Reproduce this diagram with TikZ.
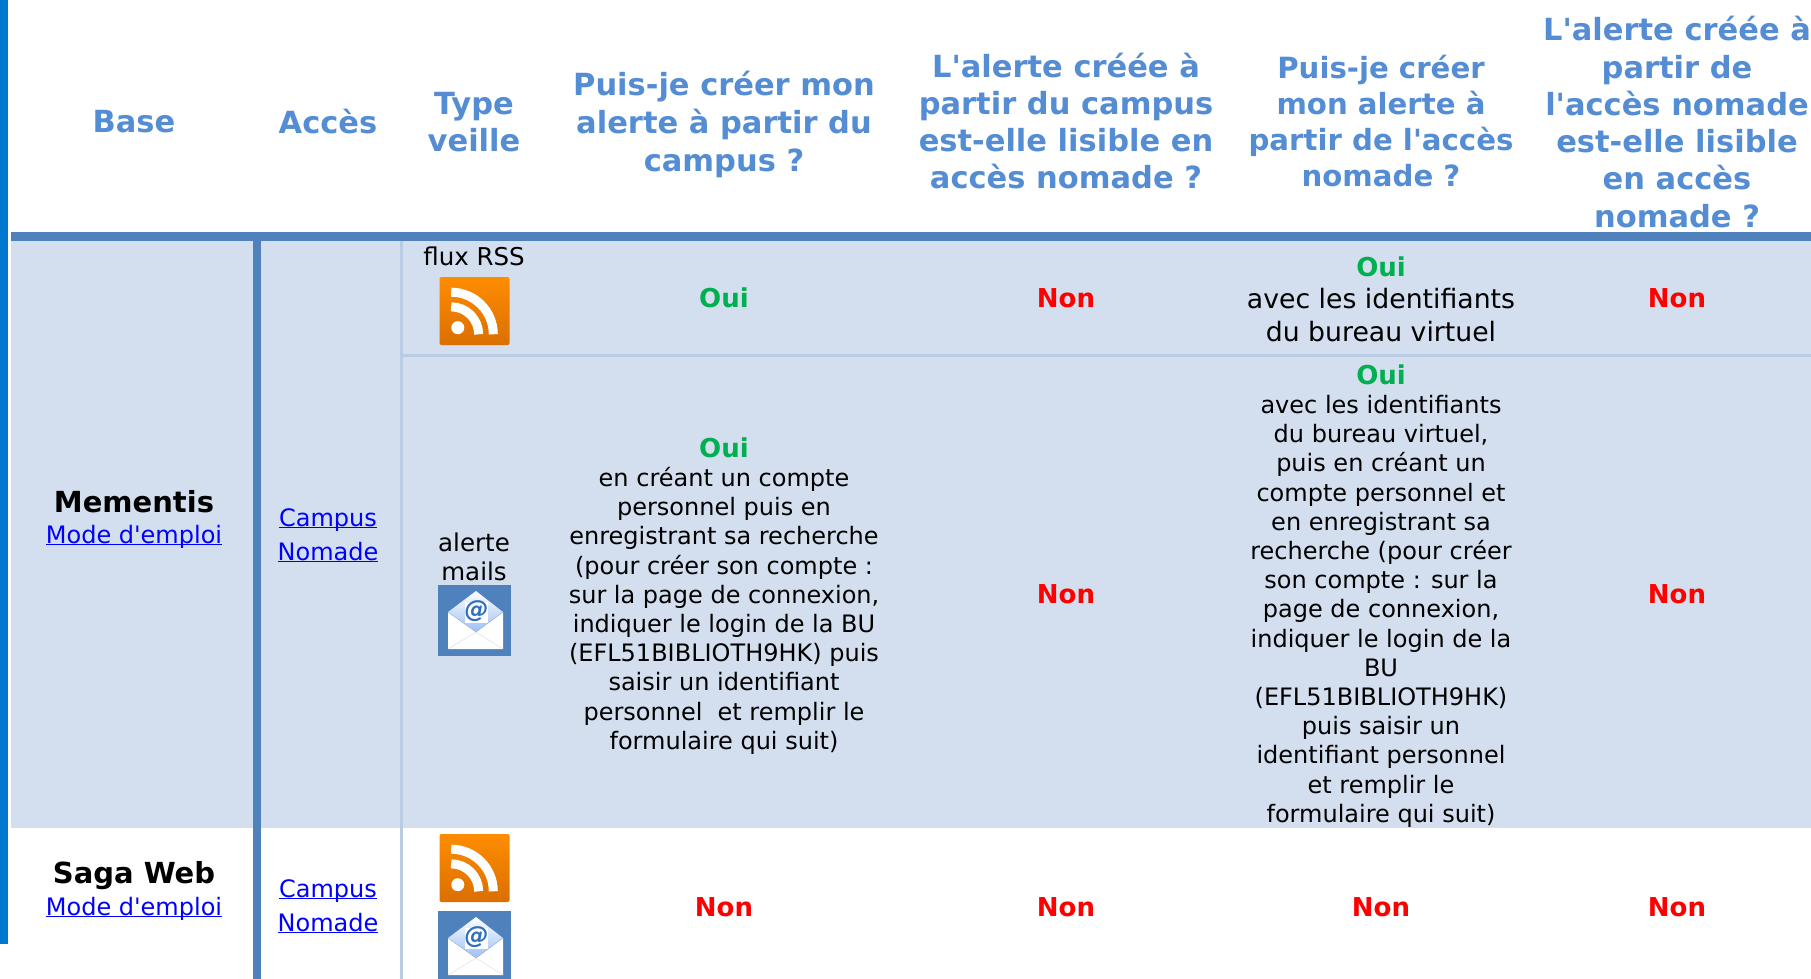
\documentclass[tikz,border=0pt]{standalone}
\usepackage{fontspec}
\newfontfamily\dv{DejaVu Sans}
\definecolor{bar}{HTML}{4F81BD}
\definecolor{pale}{HTML}{B8CCE4}
\definecolor{lite}{HTML}{D3DFEE}
\definecolor{edge}{HTML}{0078CF}
\definecolor{hdr}{HTML}{548DD4}
\definecolor{oui}{HTML}{00B050}
\definecolor{lnk}{HTML}{0000FF}
\definecolor{rsstop}{HTML}{FF8C00}
\definecolor{rssbot}{HTML}{DA6F00}
\definecolor{flap}{HTML}{9DBEF5}
\definecolor{atc}{HTML}{2F6FBF}
\newcommand{\lk}[1]{\underline{\smash{#1}}}
\newcommand{\ouiT}{{\fontsize{26}{29}\selectfont\bfseries\color{oui}Oui}}
\tikzset{
  hd/.style={inner sep=0,align=center,text=hdr,font=\dv\fontsize{30.5}{#1}\selectfont\bfseries},
  hd/.default=37.3,
  hdn/.style={inner sep=0,align=center,text=hdr,font=\dv\fontsize{29.2}{35.8}\selectfont\bfseries},
  nm/.style={inner sep=0,align=center,text=black,font=\dv\fontsize{29}{34}\selectfont\bfseries},
  link/.style={inner sep=0,align=center,text=lnk,font=\dv\fontsize{24}{34}\selectfont},
  big/.style={inner sep=0,align=center,text=black,font=\dv\fontsize{26.7}{32.5}\selectfont},
  body/.style={inner sep=0,align=center,text=black,font=\dv\fontsize{24}{29.2}\selectfont},
  lab/.style={inner sep=0,align=center,text=black,font=\dv\fontsize{24.5}{29}\selectfont},
  non/.style={inner sep=0,text=red,font=\dv\fontsize{26}{29}\selectfont\bfseries},
  yes/.style={inner sep=0,text=oui,font=\dv\fontsize{26}{29}\selectfont\bfseries},
}
\newcommand{\rssicon}[2]{%
  \begin{scope}[shift={(#1,#2)}]
    \shade[top color=rsstop,bottom color=rssbot,rounded corners=2pt] (0,0) rectangle (70,68);
    \draw[white,line width=9pt] (53.8,57.3) .. controls (53.8,34.05) and (34.95,15.2) .. (11.7,15.2);
    \draw[white,line width=9pt] (39.15,57.3) .. controls (39.15,42.14) and (26.86,29.85) .. (11.7,29.85);
    \fill[white] (18.3,50.7) circle[radius=6.5pt];
  \end{scope}}
\newcommand{\mailicon}[3]{%
  \begin{scope}[shift={(#1,#2)}]
    \fill[bar] (0,0) rectangle (73,71);
    \shade[top color=white,bottom color=flap] (10,27) -- (38,6) -- (65,27) -- (38,47) -- cycle;
    \fill[white] (27,17) rectangle (50,38);
    \node (#3) [inner sep=0,text=atc,font=\dv\fontsize{24}{24}\selectfont\bfseries\itshape] at (38.5,26) {@};
    \fill[white] (10,27) -- (38,47) -- (65,27) -- (65,64) -- (10,64) -- cycle;
    \draw[bar!60!white,line width=.5pt] (10,27) -- (38,47) -- (65,27);
    \draw[black!12,line width=.5pt] (10,64) -- (38,47) -- (65,64);
  \end{scope}}
\begin{document}
\begin{tikzpicture}[x=1pt,y=-1pt]
\useasboundingbox (0,0) rectangle (1811,979);
\clip (0,0) rectangle (1811,979);
\fill[white] (0,0) rectangle (1811,979);
% backgrounds and rules
\fill[lite] (11,241) rectangle (1811,828);
\fill[edge] (0,0) rectangle (8,944);
\fill[pale] (399.5,241) rectangle (402.5,979);
\fill[pale] (402,354) rectangle (1811,357);
\fill[bar] (11,232) rectangle (1811,241);
\fill[bar] (252.5,241) rectangle (261,979);
% header
\node (h1) [hd] at (134,122) {Base};
\node (h2) [hd] at (328,122) {Accès};
\node (h3) [hd] at (474,122) {Type\\veille};
\node (h4) [hd=38] at (724,124) {Puis-je créer mon\\alerte à partir du\\campus ?};
\node (h5) [hd] at (1066,121) {L'alerte créée à\\partir du campus\\est-elle lisible en\\accès nomade ?};
\node (h6) [hdn] at (1381,121) {Puis-je créer\\mon alerte à\\partir de l'accès\\nomade ?};
\node (h7) [hd] at (1677,122) {L'alerte créée à\\partir de\\l'accès nomade\\est-elle lisible\\en accès\\nomade ?};
% Mementis
\node (m1) [nm] at (134,502) {Mementis};
\node (m2) [link] at (134,544) {\lk{Mode d'emploi}};
\node (m3) [link] at (328,544) {\lk{Campus}\\\lk{Nomade}};
\node (r1) [lab] at (474,256) {flux RSS};
\rssicon{439.5}{277}
\node (r2) [yes] at (724,298) {Oui};
\node (r3) [non] at (1066,298) {Non};
\node (r4) [big] at (1381,299) {{\ouiT}\\avec les identifiants\\du bureau virtuel};
\node (r5) [non] at (1677,298) {Non};
\node (a1) [lab] at (474,557) {alerte\\mails};
\mailicon{438}{585}{at1}
\node (a2) [body] at (724,596) {{\ouiT}\\en créant un compte\\personnel puis en\\enregistrant sa recherche\\(pour créer son compte :\\sur la page de connexion,\\indiquer le login de la BU\\(EFL51BIBLIOTH9HK) puis\\saisir un identifiant\\personnel\ \ et remplir le\\formulaire qui suit)};
\node (a3) [non] at (1066,594) {Non};
\node (a4) [body] at (1381,596) {{\ouiT}\\avec les identifiants\\du bureau virtuel,\\puis en créant un\\compte personnel et\\en enregistrant sa\\recherche (pour créer\\son compte : sur la\\page de connexion,\\indiquer le login de la\\BU\\(EFL51BIBLIOTH9HK)\\puis saisir un\\identifiant personnel\\et remplir le\\formulaire qui suit)};
\node (a5) [non] at (1677,594) {Non};
% Saga Web
\node (s1) [nm] at (134,876) {Saga Web};
\node (s2) [link] at (134,916) {\lk{Mode d'emploi}};
\node (s3) [link] at (328,915) {\lk{Campus}\\\lk{Nomade}};
\rssicon{439.5}{834}
\mailicon{438}{911}{at2}
\node (s4) [non] at (724,907) {Non};
\node (s5) [non] at (1066,907) {Non};
\node (s6) [non] at (1381,907) {Non};
\node (s7) [non] at (1677,907) {Non};
\end{tikzpicture}
\end{document}
